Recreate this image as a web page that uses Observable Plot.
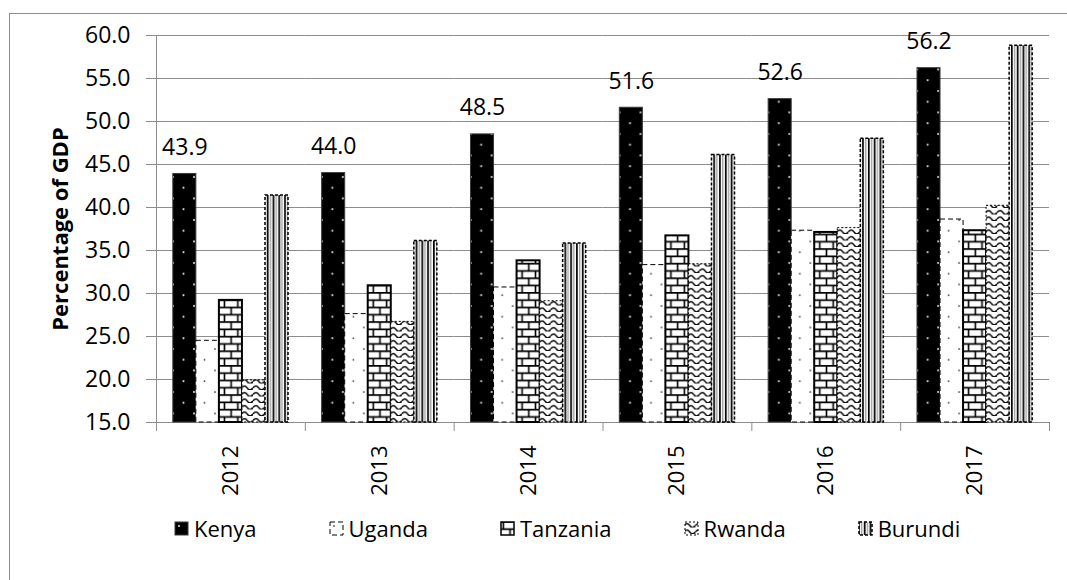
<!DOCTYPE html>
<html>
<head>
<meta charset="utf-8">
<script src="https://cdn.jsdelivr.net/npm/d3@7"></script>
<script src="https://cdn.jsdelivr.net/npm/@observablehq/plot@0.6"></script>
<style>
  html, body { margin: 0; padding: 0; overflow: hidden; background: #fff; width: 1067px; height: 580px; }
  body { font-family: "Open Sans", sans-serif; position: relative; }
  #frame { position: absolute; left: 9px; top: 13px; width: 1200px; height: 800px; border: 1px solid #8c8c8c; box-sizing: border-box; }
  #chart { position: absolute; left: 0; top: 0; }
  #chart [aria-label="y-axis label"] text { font-weight: bold; font-size: 22px; }
  #legend { position: absolute; left: 174px; top: 512px; display: flex; align-items: center; font-size: 22px; line-height: 32px; color: #000; }
  #legend .item { display: flex; align-items: center; margin-right: 72px; }
  #legend svg { margin-right: 5px; }
</style>
</head>
<body>
<svg width="0" height="0" style="position:absolute">
  <defs>
    <pattern id="p-kenya" patternUnits="userSpaceOnUse" width="21" height="21.5">
      <rect width="21" height="21.5" fill="#000"/>
      <circle cx="5" cy="5" r="1.1" fill="#d8d8d8"/>
      <circle cx="15.5" cy="15.75" r="1.1" fill="#d8d8d8"/>
    </pattern>
    <pattern id="p-uganda" patternUnits="userSpaceOnUse" width="21" height="21.5">
      <rect width="21" height="21.5" fill="#fff"/>
      <circle cx="5" cy="5" r="0.9" fill="#333"/>
      <circle cx="15.5" cy="15.75" r="0.9" fill="#333"/>
    </pattern>
    <pattern id="p-tanzania" patternUnits="userSpaceOnUse" width="13.4" height="14.6">
      <rect width="13.4" height="14.6" fill="#fff"/>
      <path d="M0,0.8H13.4M0,8.1H13.4" stroke="#000" stroke-width="1.6"/>
      <path d="M3.35,0.8V8.1M10.05,8.1V14.6" stroke="#000" stroke-width="1.6"/>
    </pattern>
    <pattern id="p-rwanda" patternUnits="userSpaceOnUse" width="11.5" height="6.5">
      <rect width="11.5" height="6.5" fill="#fff"/>
      <path d="M0,4.5 Q2.9,0.5 5.75,4.5 T11.5,4.5" fill="none" stroke="#000" stroke-width="1.5"/>
    </pattern>
    <pattern id="p-burundi" patternUnits="userSpaceOnUse" width="5.8" height="10">
      <rect width="5.8" height="10" fill="#fff"/>
      <rect x="0" width="1.7" height="10" fill="#000"/>
      <rect x="3.1" width="1.1" height="10" fill="#8a8a8a"/>
    </pattern>
  </defs>
</svg>
<div id="frame"></div>
<div id="chart"></div>
<div id="legend"></div>
<script>
// ---- Data ----
const years = ["2012", "2013", "2014", "2015", "2016", "2017"];
const countries = ["Kenya", "Uganda", "Tanzania", "Rwanda", "Burundi"];
const kenya    = [43.9, 44.0, 48.5, 51.6, 52.6, 56.2];
const uganda   = [24.5, 27.6, 30.7, 33.3, 37.3, 38.6];
const tanzania = [29.2, 30.9, 33.8, 36.7, 37.1, 37.3];
const rwanda   = [19.9, 26.7, 29.1, 33.4, 37.6, 40.2];
const burundi  = [41.4, 36.1, 35.8, 46.1, 48.0, 58.8];
const yTicks = [15, 20, 25, 30, 35, 40, 45, 50, 55, 60];
const yTitle = "Percentage of GDP";

const series = {Kenya: kenya, Uganda: uganda, Tanzania: tanzania, Rwanda: rwanda, Burundi: burundi};
const data = [];
years.forEach((yr, i) => countries.forEach(c => data.push({year: yr, country: c, value: series[c][i]})));

// ---- Styles (per country) ----
const styles = {
  Kenya:    {fill: "url(#p-kenya)",    stroke: "#3a3a3a", strokeWidth: 1},
  Uganda:   {fill: "url(#p-uganda)",   stroke: "#000", strokeWidth: 1, strokeDasharray: "5,3"},
  Tanzania: {fill: "url(#p-tanzania)", stroke: "#000", strokeWidth: 2},
  Rwanda:   {fill: "url(#p-rwanda)",   stroke: "#000", strokeWidth: 1, strokeDasharray: "2,2"},
  Burundi:  {fill: "url(#p-burundi)",  stroke: "#000", strokeWidth: 1.5, strokeDasharray: "3,2"}
};

const W = 1067, H = 500, mL = 156, mR = 18, mT = 35, mB = 78;
const step = (W - mL - mR) / years.length;
const grey = "#8c8c8c";

const chart = Plot.plot({
  width: W, height: H,
  marginLeft: mL, marginRight: mR, marginTop: mT, marginBottom: mB,
  style: {fontFamily: "Open Sans, sans-serif", fontSize: "22px", color: "#000", background: "transparent", overflow: "visible"},
  fx: {domain: years, padding: 0, round: false, label: null},
  x: {domain: countries, paddingInner: 0, paddingOuter: 0.73, round: false, axis: null},
  y: {domain: [15, 60], label: null},
  marks: [
    Plot.gridY(yTicks, {stroke: grey, strokeOpacity: 1}),
    // bars
    ...countries.map(c => Plot.barY(data.filter(d => d.country === c), {
      fx: "year", x: "country", y1: 15, y2: "value", ...styles[c]
    })),
    // Kenya value labels
    Plot.text(data.filter(d => d.country === "Kenya"), {
      fx: "year", x: "country", y: "value", text: d => d.value.toFixed(1),
      lineAnchor: "bottom", dy: -19, fontSize: 23, fill: "#000"
    }),
    // y axis ticks and labels
    Plot.axisY(yTicks, {
      tickSize: 10, tickPadding: 16, tickFormat: d3.format(".1f"),
      stroke: grey, fill: "#000", fontSize: 23,
      label: yTitle, labelAnchor: "center", labelArrow: false, labelOffset: 104
    }),
    // y axis line: left edge of the first year's facet
    Plot.ruleX([years[0]], {fx: d => d, x: null, dx: -step / 2, stroke: grey}),
    // category boundary ticks below the x axis
    Plot.axisFx({anchor: "bottom", tickSize: 9, dx: -step / 2, tickFormat: () => "", stroke: grey, label: null}),
    Plot.ruleX([years[years.length - 1]], {fx: d => d, x: null, y1: 15, y2: 15, insetBottom: -9, dx: step / 2, stroke: grey}),
    // year labels
    Plot.axisFx({anchor: "bottom", tickSize: 0, tickPadding: 23, tickRotate: -90, fontSize: 22, fill: "#000", label: null})
  ]
});
document.getElementById("chart").appendChild(chart);

// ---- Legend ----
const legend = d3.select("#legend");
countries.forEach(c => {
  const it = legend.append("div").attr("class", "item");
  const s = it.append("svg").attr("width", 15).attr("height", 15);
  const st = styles[c];
  s.append("rect").attr("x", 1).attr("y", 1).attr("width", 13).attr("height", 13)
    .attr("fill", st.fill).attr("stroke", st.stroke).attr("stroke-width", Math.min(st.strokeWidth, 1.5))
    .attr("stroke-dasharray", st.strokeDasharray || null);
  it.append("span").text(c);
});
</script>
</body>
</html>
